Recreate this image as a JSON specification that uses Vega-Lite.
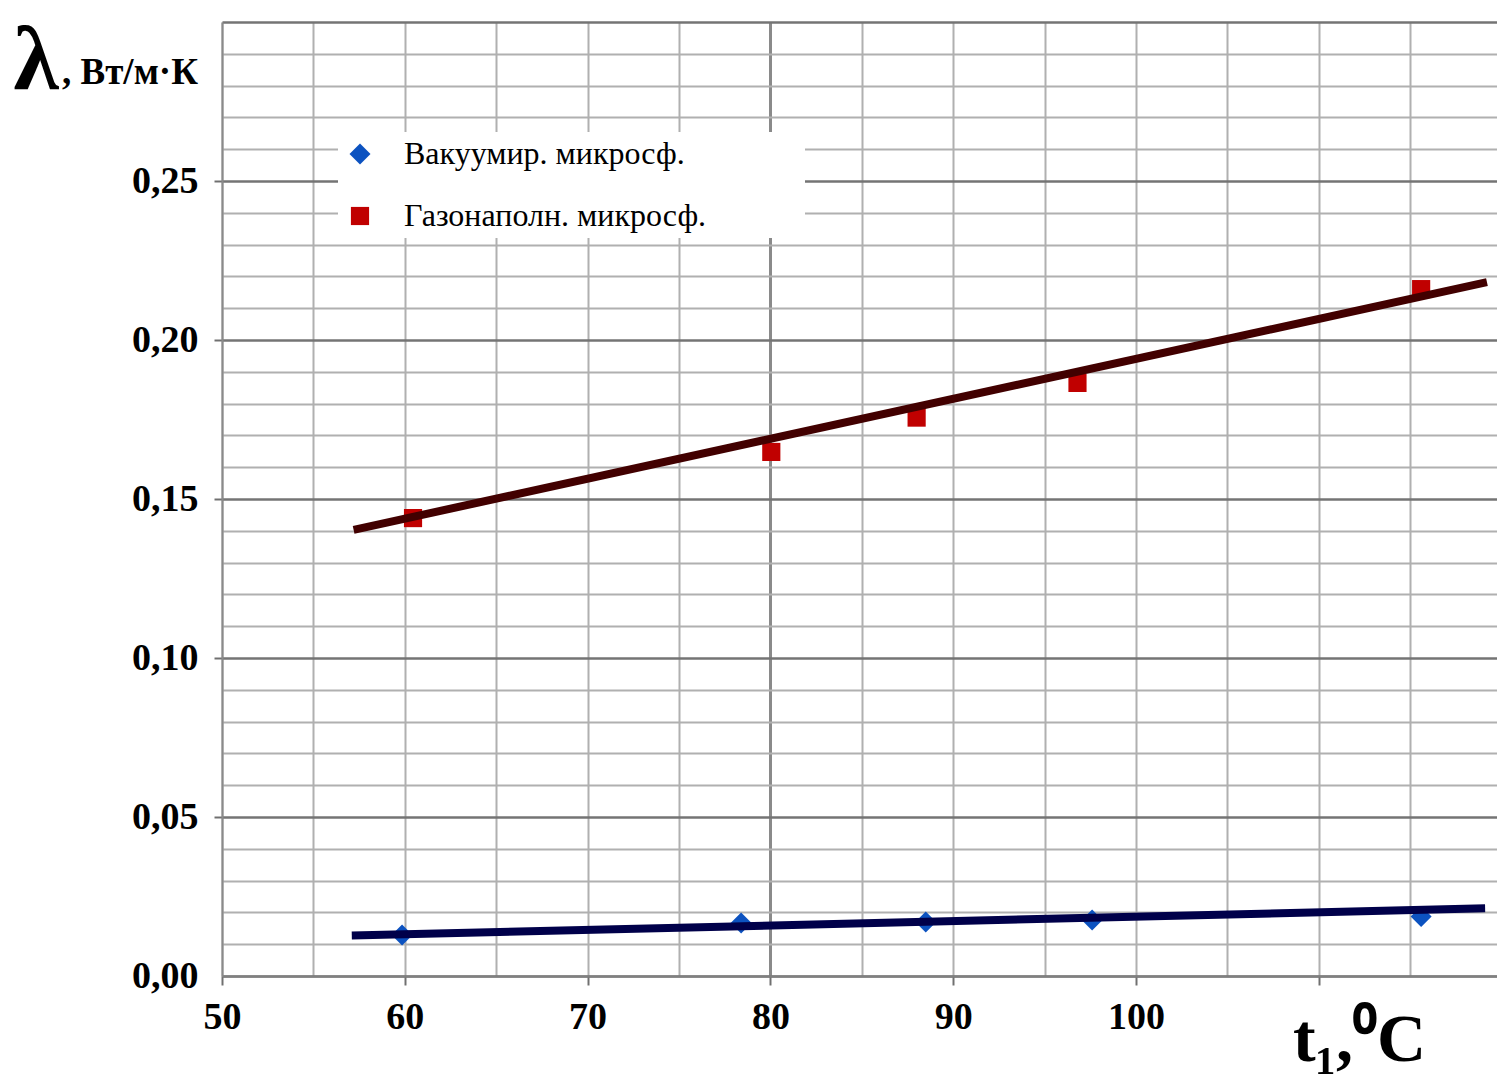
{
  "$schema": "https://vega.github.io/schema/vega-lite/v6.json",
  "width": 1275,
  "height": 954,
  "autosize": {"type": "none"},
  "padding": {"left": 222, "top": 22, "right": 0, "bottom": 100},
  "background": "white",
  "config": {
    "view": {"stroke": null},
    "font": "Liberation Serif"
  },
  "title": {
    "text": ", Вт/м·К",
    "anchor": "start",
    "frame": "group",
    "font": "Liberation Serif",
    "fontSize": 37,
    "fontWeight": "bold",
    "color": "black",
    "dx": -160,
    "dy": 118,
    "offset": 0,
    "baseline": "alphabetic"
  },
  "datasets": {
    "points": [
      {"series": "Вакуумир. микросф.", "t": 59.85, "lambda": 0.0129},
      {"series": "Вакуумир. микросф.", "t": 78.4, "lambda": 0.0167},
      {"series": "Вакуумир. микросф.", "t": 88.5, "lambda": 0.0170},
      {"series": "Вакуумир. микросф.", "t": 97.6, "lambda": 0.0176},
      {"series": "Вакуумир. микросф.", "t": 115.6, "lambda": 0.0187},
      {"series": "Газонаполн. микросф.", "t": 60.45, "lambda": 0.1440},
      {"series": "Газонаполн. микросф.", "t": 80.05, "lambda": 0.1648},
      {"series": "Газонаполн. микросф.", "t": 88.0, "lambda": 0.1756},
      {"series": "Газонаполн. микросф.", "t": 96.8, "lambda": 0.1865},
      {"series": "Газонаполн. микросф.", "t": 115.6, "lambda": 0.2160}
    ],
    "trend": [
      {"series": "Вакуумир. микросф.", "t": 57.1, "lambda": 0.0127},
      {"series": "Вакуумир. микросф.", "t": 119.1, "lambda": 0.0213},
      {"series": "Газонаполн. микросф.", "t": 57.2, "lambda": 0.1403},
      {"series": "Газонаполн. микросф.", "t": 119.2, "lambda": 0.2182}
    ]
  },
  "encoding": {
    "x": {
      "field": "t",
      "type": "quantitative",
      "scale": {"domain": [50, 119.75], "nice": false, "zero": false},
      "axis": {
        "values": [50, 55, 60, 65, 70, 75, 80, 85, 90, 95, 100, 105, 110, 115],
        "grid": true,
        "gridColor": {"condition": {"test": "datum.value == 80", "value": "#8a8a8a"}, "value": "#b0b0b0"},
        "gridWidth": {"condition": {"test": "datum.value == 80", "value": 3}, "value": 2},
        "domainColor": "#808080",
        "domainWidth": 2,
        "ticks": true,
        "tickSize": 9,
        "tickWidth": 2,
        "tickColor": {"condition": {"test": "datum.value % 10 == 0", "value": "#707070"}, "value": "transparent"},
        "labelExpr": "datum.value % 10 == 0 && datum.value < 105 ? datum.label : ''",
        "labelFont": "Liberation Serif",
        "labelFontWeight": "bold",
        "labelFontSize": 38,
        "labelColor": "black",
        "labelPadding": 13,
        "labelFlush": false,
        "labelOverlap": false,
        "title": "t₁,⁰C",
        "titleFont": "Liberation Serif",
        "titleFontWeight": "bold",
        "titleFontSize": 68,
        "titleColor": "black",
        "titleAnchor": null,
        "titleAlign": "center",
        "titleBaseline": "alphabetic",
        "titleX": 1137,
        "titleY": 84
      }
    },
    "y": {
      "field": "lambda",
      "type": "quantitative",
      "scale": {"domain": [0, 0.3], "nice": false, "zero": false},
      "axis": {
        "values": [0, 0.01, 0.02, 0.03, 0.04, 0.05, 0.06, 0.07, 0.08, 0.09, 0.1, 0.11, 0.12, 0.13, 0.14, 0.15, 0.16, 0.17, 0.18, 0.19, 0.2, 0.21, 0.22, 0.23, 0.24, 0.25, 0.26, 0.27, 0.28, 0.29, 0.3],
        "grid": true,
        "gridColor": {"condition": {"test": "round(datum.value*100) % 5 == 0", "value": "#747474"}, "value": "#b0b0b0"},
        "gridWidth": {"condition": {"test": "round(datum.value*100) % 5 == 0", "value": 2.5}, "value": 2},
        "domainColor": "#8a8a8a",
        "domainWidth": 2,
        "tickSize": 8,
        "tickWidth": 2,
        "tickColor": {"condition": {"test": "round(datum.value*100) % 5 == 0 && datum.value > 0.001 && datum.value < 0.29", "value": "#707070"}, "value": "transparent"},
        "labelExpr": "round(datum.value*100) % 5 == 0 && datum.value < 0.29 ? replace(format(datum.value, '.2f'), '.', ',') : ''",
        "labelFont": "Liberation Serif",
        "labelFontWeight": "bold",
        "labelFontSize": 38,
        "labelColor": "black",
        "labelPadding": 16,
        "labelFlush": false,
        "labelOverlap": false,
        "title": "λ",
        "titleFont": "Liberation Serif",
        "titleFontWeight": "bold",
        "titleFontSize": 92,
        "titleColor": "black",
        "titleAngle": 0,
        "titleAnchor": null,
        "titleAlign": "left",
        "titleBaseline": "alphabetic",
        "titleX": -209,
        "titleY": 66
      }
    }
  },
  "layer": [
    {
      "data": {"name": "points"},
      "mark": {"type": "point", "filled": true, "opacity": 1},
      "encoding": {
        "color": {
          "field": "series",
          "type": "nominal",
          "scale": {"domain": ["Вакуумир. микросф.", "Газонаполн. микросф."], "range": ["#0c52c0", "#c00000"]},
          "legend": {
            "title": null,
            "orient": "none",
            "legendX": 116,
            "legendY": 110,
            "fillColor": "white",
            "padding": 6,
            "symbolSize": 200,
            "symbolStrokeWidth": 0,
            "labelFont": "Liberation Serif",
            "labelFontSize": 32,
            "labelColor": "black",
            "labelOffset": 28,
            "rowPadding": 30,
            "labelLimit": 1000,
            "labelExpr": "datum.label + '\u2800\u2800\u2800\u2800'"
          }
        },
        "shape": {
          "field": "series",
          "type": "nominal",
          "scale": {"domain": ["Вакуумир. микросф.", "Газонаполн. микросф."], "range": ["diamond", "square"]},
          "legend": {
            "title": null,
            "orient": "none",
            "legendX": 116,
            "legendY": 110,
            "fillColor": "white",
            "padding": 6,
            "symbolSize": 200,
            "symbolStrokeWidth": 0,
            "labelFont": "Liberation Serif",
            "labelFontSize": 32,
            "labelColor": "black",
            "labelOffset": 28,
            "rowPadding": 30,
            "labelLimit": 1000,
            "labelExpr": "datum.label + '\u2800\u2800\u2800\u2800'"
          }
        },
        "size": {
          "field": "series",
          "type": "nominal",
          "scale": {"domain": ["Вакуумир. микросф.", "Газонаполн. микросф."], "range": [440, 330]},
          "legend": null
        }
      }
    },
    {
      "data": {"name": "trend"},
      "mark": {"type": "line", "strokeWidth": 8, "clip": true},
      "encoding": {
        "stroke": {
          "field": "series",
          "type": "nominal",
          "scale": {"domain": ["Вакуумир. микросф.", "Газонаполн. микросф."], "range": ["#00004a", "#420000"]},
          "legend": null
        }
      }
    }
  ]
}
